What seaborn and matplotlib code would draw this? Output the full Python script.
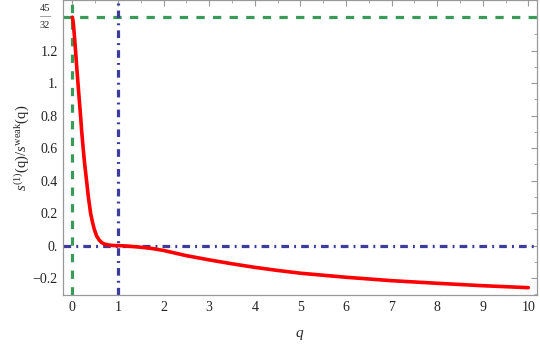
import matplotlib
matplotlib.use("Agg")
import matplotlib.pyplot as plt
import seaborn as sns
from matplotlib.ticker import MultipleLocator, FixedLocator
from matplotlib.transforms import offset_copy

sns.set_style("white")
plt.rcParams['font.family'] = ['Liberation Serif', 'DejaVu Serif']
plt.rcParams['mathtext.fontset'] = 'custom'
plt.rcParams['mathtext.rm'] = 'Liberation Serif'
plt.rcParams['mathtext.it'] = 'Liberation Serif:italic'

# Data
q_vals = [0.0, 0.02, 0.05, 0.10, 0.15, 0.186, 0.20, 0.237, 0.27, 0.311, 0.35,
          0.399, 0.44, 0.478, 0.53, 0.588, 0.64, 0.697, 0.80, 0.93, 1.0, 1.2,
          1.5, 1.75, 2.0, 2.5, 3.0, 3.5, 4.0, 4.5, 5.0, 6.0, 7.0, 8.0, 9.0, 10.0]
s_vals = [1.406, 1.37, 1.27, 1.08, 0.90, 0.773, 0.715, 0.596, 0.50, 0.398, 0.30,
          0.20, 0.145, 0.102, 0.06, 0.034, 0.019, 0.010, 0.003, 0.0, 0.0, -0.003,
          -0.010, -0.018, -0.030, -0.062, -0.088, -0.112, -0.134, -0.153, -0.17,
          -0.195, -0.216, -0.232, -0.247, -0.259]
x_ticks = [0, 1, 2, 3, 4, 5, 6, 7, 8, 9, 10]
y_ticks = [-0.2, 0.0, 0.2, 0.4, 0.6, 0.8, 1.0, 1.2, 45 / 32]
y_tick_labels = ["\u22120.2", "0.", "0.2", "0.4", "0.6", "0.8", "1.", "1.2", ""]
frac_num, frac_den = "45", "32"
h_green = 45 / 32
v_green = 0.0
h_blue = 0.0
v_blue = 1.0

fig = plt.figure(figsize=(5.4, 3.44), dpi=100)
ax = fig.add_axes([0.1172, 0.1416, 0.8772, 0.8574])

green = "#3a9a5a"
blue = "#3c3c9c"
ax.axhline(h_green, color=green, lw=2.3, ls=(0, (2.6, 2.6)), zorder=1)
ax.axvline(v_green, color=green, lw=2.3, ls=(0, (2.6, 2.6)), zorder=1)
ax.axhline(h_blue, color=blue, lw=2.3, ls=(0, (2.4, 1.6, 0.6, 1.6)), zorder=1)
ax.axvline(v_blue, color=blue, lw=2.3, ls=(0, (2.4, 1.6, 0.6, 1.6)), zorder=1)

sns.lineplot(x=q_vals, y=s_vals, ax=ax, color="red", lw=2.6, sort=False,
             estimator=None, zorder=3)

ax.set_xlim(-0.2, 10.19)
ax.set_ylim(-0.306, 1.51)

ax.set_xticks(x_ticks)
ax.set_xticklabels([str(t) for t in x_ticks])
ax.xaxis.set_minor_locator(MultipleLocator(0.5))
ax.set_yticks(y_ticks)
ax.set_yticklabels(y_tick_labels)
ax.yaxis.set_minor_locator(FixedLocator([-0.3, -0.1, 0.1, 0.3, 0.5, 0.7, 0.9, 1.1, 1.3]))

ax.tick_params(which='both', direction='in', top=True, right=True, color='#999999',
               labelsize=10, labelcolor='#222222')
ax.tick_params(which='major', length=4, width=0.8, pad=4)
ax.tick_params(which='minor', length=2.2, width=0.6)
for sp in ax.spines.values():
    sp.set_color('#999999')
    sp.set_linewidth(0.9)

# stacked fraction label for the 45/32 tick
ytr = ax.get_yaxis_transform()
ax.text(-0.028, 45 / 32, frac_num, transform=offset_copy(ytr, fig=fig, y=3, units='points'),
        ha='right', va='bottom', fontsize=7.5, color='#222222', clip_on=False)
ax.text(-0.028, 45 / 32, frac_den, transform=offset_copy(ytr, fig=fig, y=-3, units='points'),
        ha='right', va='top', fontsize=7.5, color='#222222', clip_on=False)
ax.text(-0.028, 45 / 32, "\u2014", transform=ytr, ha='right', va='center',
        fontsize=8, color='#555555', clip_on=False)

ax.set_xlabel(r"$q$", fontsize=11, labelpad=10)
ax.set_ylabel(r"$s^{(1)}$(q)/$s^{\rm weak}$(q)", fontsize=10.5, labelpad=1)

fig.savefig("out.png", dpi=100)
